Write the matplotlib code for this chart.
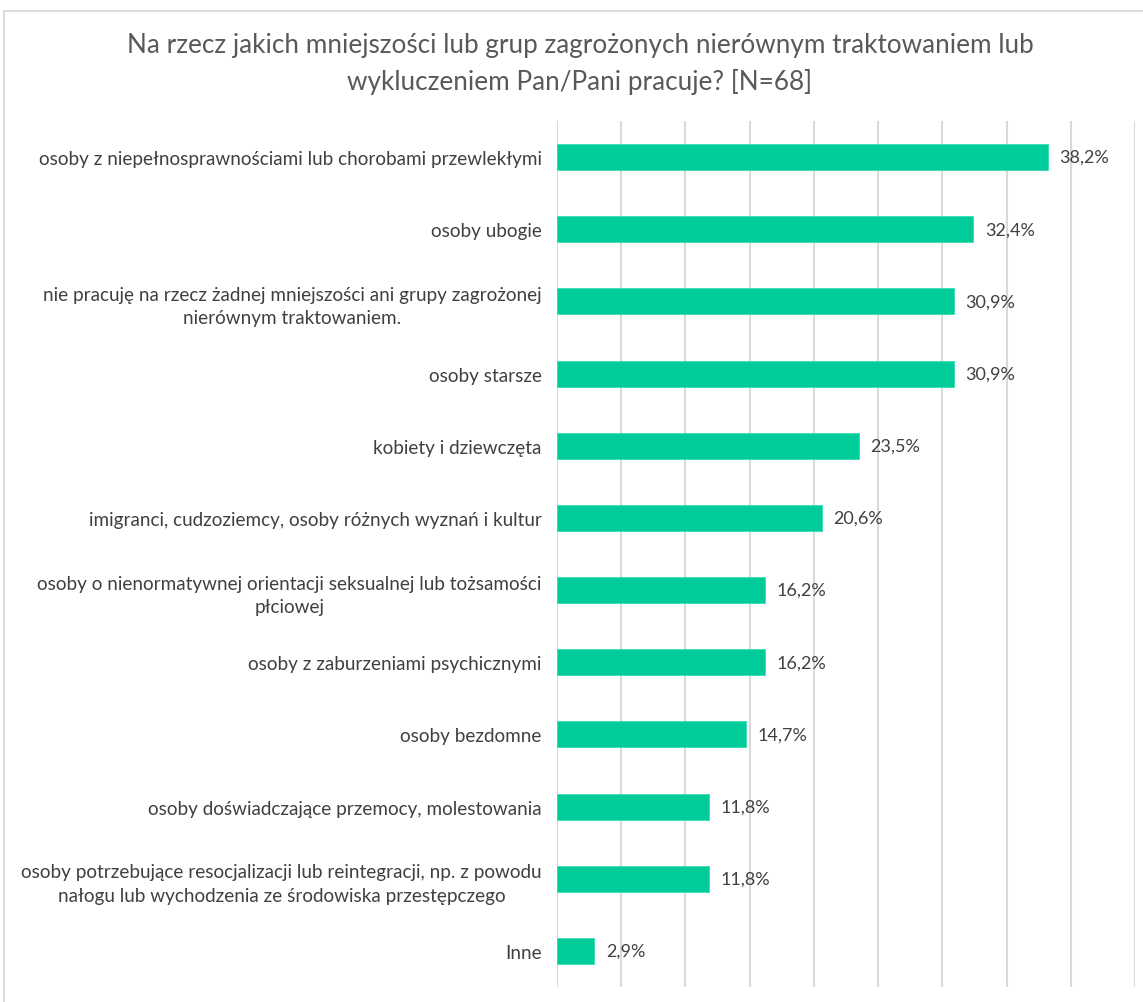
import numpy as np
import matplotlib.pyplot as plt
from matplotlib.patches import Rectangle

plt.rcParams['font.family'] = ['Lato', 'DejaVu Sans']

categories = [
    "osoby z niepełnosprawnościami lub chorobami przewlekłymi",
    "osoby ubogie",
    "nie pracuję na rzecz żadnej mniejszości ani grupy zagrożonej\nnierównym traktowaniem.",
    "osoby starsze",
    "kobiety i dziewczęta",
    "imigranci, cudzoziemcy, osoby różnych wyznań i kultur",
    "osoby o nienormatywnej orientacji seksualnej lub tożsamości\npłciowej",
    "osoby z zaburzeniami psychicznymi",
    "osoby bezdomne",
    "osoby doświadczające przemocy, molestowania",
    "osoby potrzebujące resocjalizacji lub reintegracji, np. z powodu\nnałogu lub wychodzenia ze środowiska przestępczego",
    "Inne",
]
values = [38.2, 32.4, 30.9, 30.9, 23.5, 20.6, 16.2, 16.2, 14.7, 11.8, 11.8, 2.9]
title = ("Na rzecz jakich mniejszości lub grup zagrożonych nierównym traktowaniem lub\n"
         "wykluczeniem Pan/Pani pracuje? [N=68]")

W, H = 1143, 1003
fig = plt.figure(figsize=(W / 100, H / 100), dpi=100)

# outer chart border (cut by the image edges on the right and bottom)
fig.patches.append(Rectangle((4 / W, -0.1), 1.2, 1 - 12 / H + 0.1, transform=fig.transFigure,
                             fill=False, edgecolor='#d9d9d9', lw=1.3))

ax = fig.add_axes([557 / W, 1 - 988 / H, (1135 - 557) / W, (988 - 122) / H])
y = np.arange(len(categories))
ax.barh(y, values, height=0.36, color='#00CC99', edgecolor='#33DDB3', lw=0.6, zorder=3)

for yi, v in zip(y, values):
    ax.text(v + 0.9, yi, f"{v:.1f}%".replace('.', ','), va='center', ha='left',
            fontsize=13, color='#404040')

ax.set_xlim(0, 45)
ax.set_ylim(len(categories) - 0.5, -0.5)
ax.set_xticks(np.arange(0, 46, 5))
ax.xaxis.grid(True, color='#d9d9d9', lw=1.5, zorder=0)
ax.tick_params(axis='x', length=0, labelbottom=False)
ax.tick_params(axis='y', length=0, pad=11)
ax.set_yticks(y)
ax.set_yticklabels(categories, fontsize=13.6, color='#404040')
for lab in ax.get_yticklabels():
    lab.set_multialignment('center')
    lab.set_linespacing(1.45)
for s in ax.spines.values():
    s.set_visible(False)

fig.text(580 / W, 1 - 64 / H, title, ha='center', va='center', fontsize=18.8,
         color='#595959', linespacing=1.5)

fig.savefig("out.png", dpi=100)
